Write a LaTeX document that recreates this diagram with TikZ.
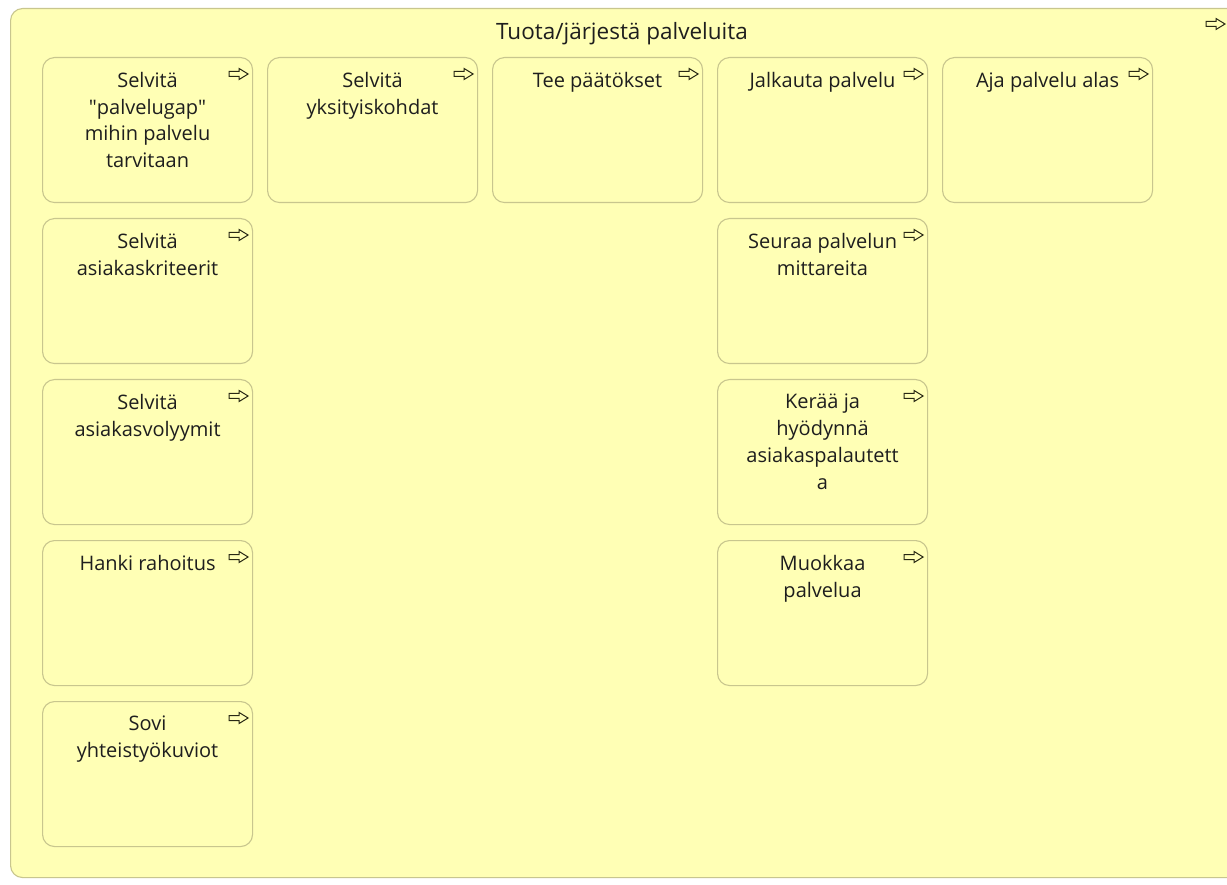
\documentclass[tikz,border=0pt]{standalone}
\usepackage{fontspec}
\setmainfont{Open Sans}
\definecolor{archyellow}{RGB}{255,255,181}
\definecolor{boxline}{RGB}{200,198,142}
\definecolor{textcol}{RGB}{30,30,30}
\definecolor{iconcol}{RGB}{40,40,20}
\tikzset{
  proc/.style={draw=boxline, fill=archyellow, rounded corners=12pt, line width=1.1pt,
    minimum width=210pt, minimum height=145pt, anchor=north west, inner sep=0pt},
  lbl/.style={align=center, text=textcol, anchor=north, inner sep=0pt,
    font=\fontsize{20}{26.8}\selectfont},
  procicon/.pic={\draw[iconcol, line width=1pt, fill=archyellow, line join=miter]
    (-10,-2.5) -- (0,-2.5) -- (0,-5.5) -- (9,0) -- (0,5.5) -- (0,2.5) -- (-10,2.5) -- cycle;}
}
\begin{document}
\begin{tikzpicture}[x=1pt, y=-1pt]
  \useasboundingbox (0,0) rectangle (1227,885);
  \fill[white] (0,0) rectangle (1227,885);
  \clip (0,0) rectangle (1227,885);
  % outer process group
  \node[proc, minimum width=1240pt, minimum height=869pt] (group) at (10,8) {};
  \node[lbl, anchor=base, font=\fontsize{22.5}{26}\selectfont] (grouptitle) at (622,40) {Tuota/järjestä palveluita};
  \pic at (1216,24) {procicon};
  % sub-processes: name / column x / row y / label
  \foreach \n/\x/\y/\t in {
      p1/42/57/{Selvitä\\\textquotedbl palvelugap\textquotedbl\\mihin palvelu\\tarvitaan},
      p2/267/57/{Selvitä\\yksityiskohdat},
      p3/492/57/{Tee päätökset},
      p4/717/57/{Jalkauta palvelu},
      p5/942/57/{Aja palvelu alas},
      p6/42/218/{Selvitä\\asiakaskriteerit},
      p7/42/379/{Selvitä\\asiakasvolyymit},
      p8/42/540/{Hanki rahoitus},
      p9/42/701/{Sovi\\yhteistyökuviot},
      p10/717/218/{Seuraa palvelun\\mittareita},
      p11/717/379/{Kerää ja\\hyödynnä\\asiakaspalautett\\a},
      p12/717/540/{Muokkaa\\palvelua}} {
    \node[proc] (\n) at (\x,\y) {};
    \node[lbl] (\n-text) at ([yshift=-15pt]\n.north) {\t};
    \pic at ([xshift=-14pt, yshift=-17pt]\n.north east) {procicon};
  }
\end{tikzpicture}
\end{document}
